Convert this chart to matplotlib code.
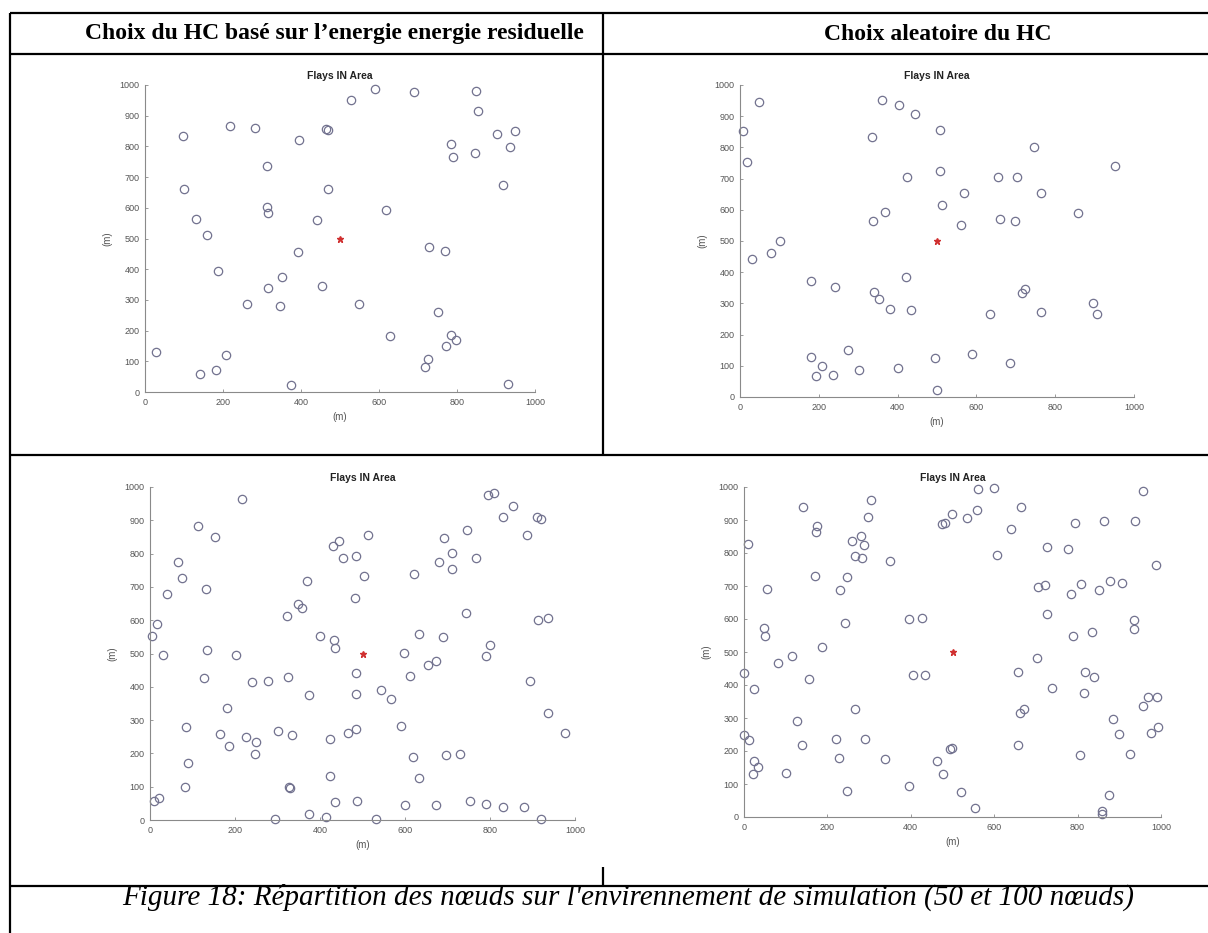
import matplotlib
matplotlib.use("Agg")
import matplotlib.pyplot as plt

W, H = 1208, 933

# node positions (m) -- 50 nodes, cluster head chosen on residual energy
energie_50_x = [28, 141, 183, 208, 188, 159, 131, 101, 97, 219, 281, 314, 314, 316, 261, 316, 346, 351, 393, 395,
                375, 440, 455, 465, 470, 468, 529, 549, 591, 618, 627, 689, 729, 768, 752, 785, 772, 798, 725, 718,
                785, 789, 845, 849, 855, 902, 949, 936, 917, 930]
energie_50_y = [130, 58, 71, 120, 393, 510, 563, 661, 835, 867, 859, 735, 601, 582, 286, 339, 280, 374, 457, 820,
                24, 559, 346, 856, 852, 661, 951, 288, 988, 592, 182, 977, 471, 459, 261, 185, 151, 168, 109, 80,
                807, 765, 780, 980, 915, 841, 851, 798, 674, 26]

# 50 nodes, random cluster head
aleatoire_50_x = [47, 7, 18, 30, 78, 102, 180, 240, 180, 194, 207, 235, 275, 302, 336, 361, 403, 444, 338, 367,
                  425, 339, 352, 381, 435, 422, 402, 508, 507, 512, 561, 568, 496, 501, 588, 634, 654, 702, 659, 697,
                  747, 763, 686, 717, 723, 763, 858, 895, 907, 951]
aleatoire_50_y = [947, 852, 754, 442, 460, 501, 371, 351, 128, 66, 98, 71, 152, 88, 834, 951, 936, 908, 564, 594,
                  706, 335, 314, 282, 280, 386, 93, 856, 724, 614, 551, 655, 125, 24, 137, 267, 704, 706, 572, 564,
                  802, 655, 109, 334, 347, 273, 590, 302, 267, 741]

# 100 nodes, residual energy
energie_100_x = [216, 114, 152, 65, 75, 41, 131, 16, 4, 30, 133, 127, 202, 241, 277, 180, 165, 186, 225, 249,
                 248, 84, 89, 82, 9, 20, 323, 349, 358, 369, 324, 300, 335, 373, 327, 330, 294, 374, 413, 423,
                 423, 435, 401, 434, 435, 430, 445, 453, 485, 504, 482, 514, 484, 485, 467, 484, 486, 532,
                 796, 810, 853, 831, 910, 921, 888, 747, 692, 711, 681, 710, 767, 620, 743, 914, 936, 632, 689, 598,
                 800, 791, 673, 655, 612, 543, 566, 894, 937, 976, 591, 618, 633, 696, 730, 599, 673, 752, 791, 830,
                 881, 921]
energie_100_y = [965, 882, 850, 776, 728, 680, 694, 588, 552, 496, 511, 427, 495, 414, 417, 335, 258, 222, 248, 235,
                 197, 280, 172, 100, 58, 65, 613, 650, 638, 717, 430, 268, 254, 374, 100, 97, 3, 18, 8, 242,
                 133, 53, 552, 540, 518, 823, 837, 786, 792, 734, 667, 855, 442, 378, 260, 274, 57, 3,
                 975, 982, 943, 910, 910, 903, 857, 872, 848, 802, 775, 755, 788, 738, 622, 602, 607, 560, 551, 502,
                 527, 493, 478, 465, 433, 390, 364, 418, 320, 260, 283, 190, 127, 195, 198, 45, 46, 56, 47, 40,
                 38, 2]

# 100 nodes, random cluster head
aleatoire_100_x = [142, 304, 297, 176, 173, 10, 260, 280, 287, 265, 284, 349, 170, 246, 230, 56, 243, 48, 51, 186,
                   115, 82, 0, 24, 155, 265, 128, 139, 0, 11, 24, 34, 22, 101, 221, 229, 289, 247, 339, 396,
                   395, 427, 406, 434, 476, 481, 499, 535, 463, 477, 494, 498, 520,
                   562, 600, 558, 664, 640, 606, 727, 778, 794, 864, 937, 958, 987, 705, 721, 783, 808, 851, 878, 907,
                   727, 788, 834, 936, 936, 702, 658, 818, 839, 739, 816, 663, 672, 658, 806, 885, 899, 926, 968, 991,
                   956, 977, 993, 875, 858, 858, 554]
aleatoire_100_y = [939, 962, 908, 883, 864, 828, 835, 852, 823, 792, 784, 775, 730, 728, 688, 690, 589, 573, 549, 516,
                   488, 467, 437, 387, 418, 326, 291, 219, 250, 233, 169, 152, 129, 134, 235, 179, 236, 79, 176, 95,
                   601, 604, 431, 431, 889, 890, 917, 906, 169, 129, 207, 208, 75,
                   995, 998, 931, 939, 873, 795, 819, 813, 890, 897, 898, 989, 765, 697, 703, 676, 706, 689, 714, 709,
                   615, 548, 562, 598, 570, 483, 439, 438, 423, 391, 377, 315, 327, 218, 188, 296, 252, 191, 365, 363,
                   337, 254, 274, 66, 18, 8, 27]

# base station in the middle of the area
sink_x = [500]
sink_y = [500]

headers = ["Choix du HC basé sur l\u2019energie energie residuelle", "Choix aleatoire du HC"]
caption = "Figure 18: Répartition des nœuds sur l'envirennement de simulation (50 et 100 nœuds)"
ticks = [0, 200, 400, 600, 800, 1000]
yticks = [0, 100, 200, 300, 400, 500, 600, 700, 800, 900, 1000]

fig = plt.figure(figsize=(W / 100, H / 100), dpi=100)
fig.patch.set_facecolor("white")

# page layer in pixel coordinates: table rules, headers and caption
page = fig.add_axes([0, 0, 1, 1])
page.set_xlim(0, W)
page.set_ylim(H, 0)
page.axis("off")
rule = dict(color="black", lw=1.6, solid_capstyle="butt")
for y in [13, 54, 455, 886]:
    page.plot([10, W], [y, y], **rule)
page.plot([10, 10], [13, H], **rule)
page.plot([603, 603], [13, 455], **rule)
page.plot([603, 603], [867, 886], **rule)

page.text(334, 34, headers[0], ha="center", va="center", fontsize=17,
          fontweight="bold", family="Liberation Serif")
page.text(938, 34, headers[1], ha="center", va="center", fontsize=17,
          fontweight="bold", family="Liberation Serif")
page.text(122, 905, caption, ha="left", va="baseline", fontsize=21,
          style="italic", family="Liberation Serif")

node_col = "#72728f"
grey = "#8a8a8a"


def panel(box, xs, ys):
    x0, x1, ytop, ybot = box
    ax = fig.add_axes([x0 / W, 1 - ybot / H, (x1 - x0) / W, (ybot - ytop) / H])
    ax.plot(xs, ys, "o", mfc="none", mec=node_col, ms=6, mew=0.9, clip_on=False)
    ax.plot(sink_x, sink_y, "*", color="#d03030", ms=4.5, clip_on=False)
    ax.set_xlim(0, 1000)
    ax.set_ylim(0, 1000)
    ax.set_xticks(ticks)
    ax.set_yticks(yticks)
    ax.set_facecolor("none")
    for s in ["top", "right"]:
        ax.spines[s].set_visible(False)
    for s in ["left", "bottom"]:
        ax.spines[s].set_color(grey)
        ax.spines[s].set_linewidth(0.8)
    ax.tick_params(direction="in", length=2.5, width=0.6, color=grey,
                   labelsize=6.5, labelcolor="#555555", pad=4)
    for lab in ax.get_xticklabels() + ax.get_yticklabels():
        lab.set_family("Liberation Sans")
    ax.set_title("Flays IN Area", fontsize=7.5, fontweight="bold",
                 family="Liberation Sans", color="#222222", pad=4)
    ax.set_xlabel("(m)", fontsize=7, family="Liberation Sans", color="#555555", labelpad=4)
    ax.set_ylabel("(m)", fontsize=7, family="Liberation Sans", color="#555555", labelpad=5)
    return ax


panel((145, 535, 85, 392), energie_50_x, energie_50_y)
panel((740, 1134, 85, 397), aleatoire_50_x, aleatoire_50_y)
panel((150, 575, 487, 820), energie_100_x, energie_100_y)
panel((744, 1161, 487, 817), aleatoire_100_x, aleatoire_100_y)

fig.savefig("out.png", dpi=100, facecolor="white")
